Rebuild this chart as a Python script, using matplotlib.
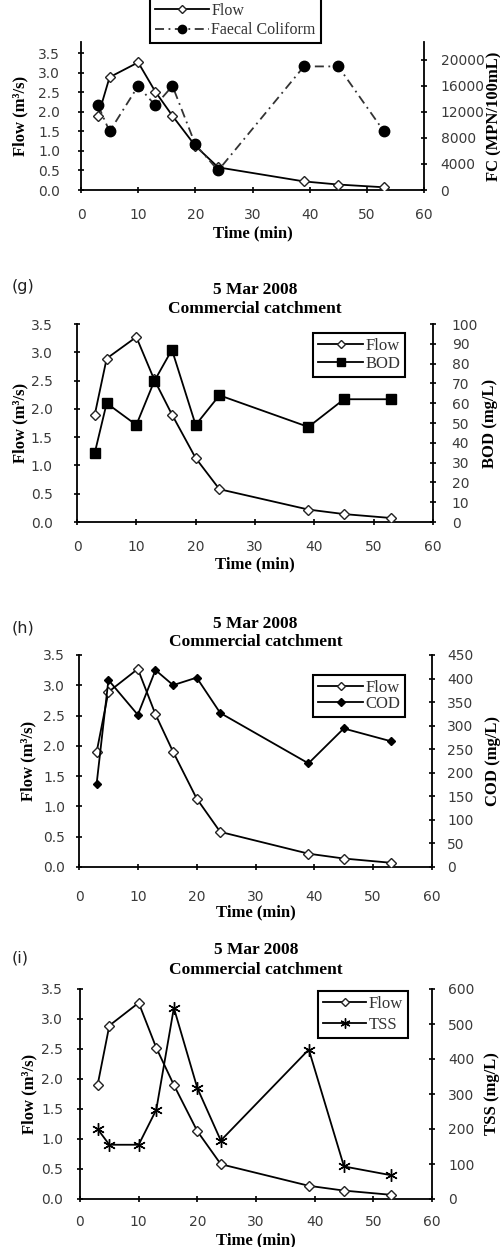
import matplotlib
matplotlib.use("Agg")
import matplotlib.pyplot as plt
import numpy as np

# sampling times (min) and flow, shared by all four panels
time_min = [3, 5, 10, 13, 16, 20, 24, 39, 45, 53]
flow = [1.9, 2.89, 3.27, 2.52, 1.9, 1.13, 0.58, 0.22, 0.14, 0.07]

# pollutant series
fc = [13000, 9000, 16000, 13000, 16000, 7000, 3000, 19000, 19000, 9000]
bod = [35, 60, 49, 71, 87, 49, 64, 48, 62, 62]
cod = [177, 397, 323, 418, 386, 402, 327, 220, 294, 267]
tss = [200, 155, 155, 255, 546, 317, 167, 427, 93, 68]

x_ticks = [0, 10, 20, 30, 40, 50, 60]
flow_ticks = [0.0, 0.5, 1.0, 1.5, 2.0, 2.5, 3.0, 3.5]
title_lines = "5 Mar 2008\nCommercial catchment"

W, H = 500, 1247
SERIF = "Liberation Serif"
TICK_COLOR = "#3a3a3a"

fig = plt.figure(figsize=(W / 100, H / 100), dpi=100)


def px_rect(left, right, top, bottom):
    """Pixel box (y from top) -> figure fraction rect."""
    return [left / W, 1 - bottom / H, (right - left) / W, (bottom - top) / H]


def style_axis(ax, pad_x, pad_y, side):
    for s in ["top", "left", "right", "bottom"]:
        ax.spines[s].set_visible(False)
    ax.spines["bottom"].set_visible(side == "left")
    ax.spines[side].set_visible(True)
    for s in ax.spines.values():
        s.set_linewidth(1.3)
    ax.tick_params(axis="x", direction="inout", length=5, width=1.2, pad=pad_x,
                   labelsize=10, labelcolor=TICK_COLOR)
    ax.tick_params(axis="y", direction="inout", length=5, width=1.2, pad=pad_y,
                   labelsize=10, labelcolor=TICK_COLOR)


def draw_panel(box, series, s_style, s_label, r_ylim, r_ticks, r_label,
               pads, xlabel_y, ylab_x, rlab_x, l_ylim=3.5):
    left, right, top, bottom = box
    ax = fig.add_axes(px_rect(left, right, top, bottom))
    ax.plot(time_min, flow, color="black", lw=1.3, marker="D", ms=5,
            mfc="white", mec="#222222", mew=1.0, label="Flow", zorder=3)
    ax.set_xlim(0, 60)
    ax.set_ylim(0, l_ylim)
    ax.set_xticks(x_ticks)
    ax.set_yticks(flow_ticks)
    ax.set_yticklabels([f"{v:.1f}" for v in flow_ticks])
    style_axis(ax, pads[0], pads[1], "left")

    ax2 = ax.twinx()
    ax2.plot(time_min, series, label=s_label, zorder=3, **s_style)
    ax2.set_ylim(*r_ylim)
    ax2.set_yticks(r_ticks)
    style_axis(ax2, pads[0], pads[2], "right")
    ax2.tick_params(axis="x", bottom=False, labelbottom=False)

    xc = (left + right) / 2 / W
    ax.set_xlabel("Time (min)", fontsize=12, fontweight="bold", family=SERIF)
    ax.xaxis.set_label_coords(xc, 1 - xlabel_y / H, transform=fig.transFigure)
    ax.xaxis.label.set_va("center")
    ax.set_ylabel("Flow (m³/s)", fontsize=12, fontweight="bold", family=SERIF)
    ax.yaxis.set_label_coords(ylab_x / W, 1 - (top + bottom) / 2 / H,
                              transform=fig.transFigure)
    ax.yaxis.label.set_va("center")
    ax2.set_ylabel(r_label, fontsize=12, fontweight="bold", family=SERIF)
    ax2.yaxis.set_label_coords(rlab_x / W, 1 - (top + bottom) / 2 / H,
                               transform=fig.transFigure)
    ax2.yaxis.label.set_va("center")
    return ax, ax2


def add_legend(ax, ax2, anchor, loc, handlelength, spacing, fontsize=12):
    h1, l1 = ax.get_legend_handles_labels()
    h2, l2 = ax2.get_legend_handles_labels()
    leg = ax2.legend(h1 + h2, l1 + l2, loc=loc,
                     bbox_to_anchor=(anchor[0] / W, 1 - anchor[1] / H),
                     bbox_transform=fig.transFigure, borderaxespad=0,
                     fancybox=False, framealpha=1, edgecolor="black",
                     handlelength=handlelength, handletextpad=0.15,
                     labelspacing=spacing, borderpad=0.3, markerscale=0.8,
                     prop={"family": SERIF, "size": fontsize})
    leg.get_frame().set_linewidth(1.5)
    for t in leg.get_texts():
        t.set_color("#333333")
    return leg


def add_title(box, y_center, letter, letter_y):
    left, right, _, _ = box
    fig.text((left + right) / 2 / W, 1 - y_center / H, title_lines,
             ha="center", va="center", fontsize=12.5, fontweight="bold",
             family=SERIF, linespacing=1.25)
    fig.text(12 / W, 1 - letter_y / H, letter, ha="left", va="center",
             fontsize=11.5, color="#222222")


# top panel: faecal coliform
box1 = (81, 424, 41.7, 190)
ax, ax2 = draw_panel(box1, fc,
                     dict(color="#333333", lw=1.3, ls=(0, (5, 2.5, 1, 2.5)),
                          marker="o", ms=7.5, mfc="black", mec="black"),
                     "Faecal Coliform", (0, 22800), np.arange(0, 20001, 4000),
                     "FC (MPN/100mL)", (10.4, 12.6, 9.4), 233, 20, 494, l_ylim=3.8)
add_legend(ax, ax2, (150, 43), "lower left", 3.4, 0.2, fontsize=11.5)

# (g) BOD
box_g = (77, 433, 324, 522)
ax, ax2 = draw_panel(box_g, bod,
                     dict(color="black", lw=1.3, marker="s", ms=7, mfc="black", mec="black"),
                     "BOD", (0, 100), np.arange(0, 101, 10), "BOD (mg/L)",
                     (10.4, 15, 11), 564, 20, 490)
add_legend(ax, ax2, (313, 333), "upper left", 2.7, 0.1)
add_title(box_g, 299, "(g)", 287)

# (h) COD
box_h = (79, 432, 655, 867)
ax, ax2 = draw_panel(box_h, cod,
                     dict(color="black", lw=1.3, marker="D", ms=4.5, mfc="black", mec="black"),
                     "COD", (0, 450), np.arange(0, 451, 50), "COD (mg/L)",
                     (14, 7.5, 8.3), 912, 28, 493)
add_legend(ax, ax2, (313, 675), "upper left", 2.7, 0.02)
add_title(box_h, 633, "(h)", 628)

# (i) TSS
box_i = (80, 432, 989, 1199)
ax, ax2 = draw_panel(box_i, tss,
                     dict(color="black", lw=1.3, marker=(6, 2, 0), ms=9, mfc="black",
                          mec="black", mew=1.0),
                     "TSS", (0, 600), np.arange(0, 601, 100), "TSS (mg/L)",
                     (9, 9.7, 9), 1240, 29, 492)
add_legend(ax, ax2, (318, 991), "upper left", 2.6, 0.3)
add_title(box_i, 960, "(i)", 958)

fig.savefig("out.png", dpi=100, facecolor="white")
